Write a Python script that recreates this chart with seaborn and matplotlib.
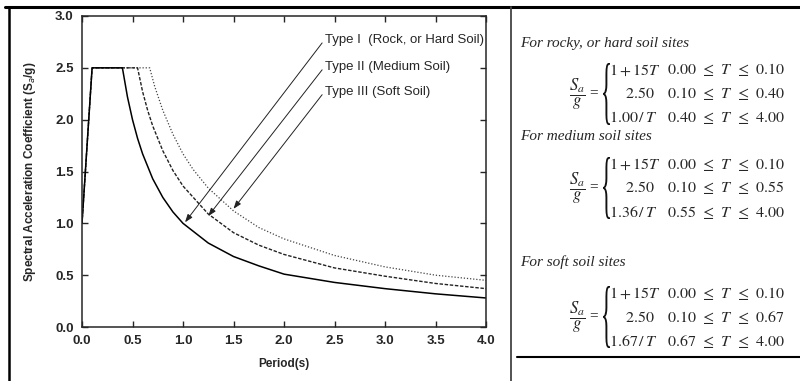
import numpy as np
import pandas as pd
import matplotlib
matplotlib.use('Agg')
import matplotlib.pyplot as plt
from matplotlib.lines import Line2D
from matplotlib.textpath import TextPath
from matplotlib.patches import PathPatch
from matplotlib.font_manager import FontProperties
from matplotlib.transforms import Affine2D
import seaborn as sns

# Response spectrum curves (period T in s, Sa/g)
t_rock = [0.0, 0.1, 0.4, 0.45, 0.5, 0.55, 0.6, 0.7, 0.8, 0.9, 1.0, 1.25, 1.5, 1.75, 2.0, 2.5, 3.0, 3.5, 4.0]
sa_rock = [1.0, 2.5, 2.5, 2.22, 2.0, 1.82, 1.67, 1.43, 1.25, 1.11, 1.0, 0.81, 0.68, 0.59, 0.51, 0.43, 0.37, 0.32, 0.28]

t_med = [0.0, 0.1, 0.55, 0.6, 0.65, 0.7, 0.8, 0.9, 1.0, 1.25, 1.5, 1.75, 2.0, 2.5, 3.0, 3.5, 4.0]
sa_med = [1.0, 2.5, 2.5, 2.27, 2.09, 1.94, 1.70, 1.51, 1.36, 1.09, 0.91, 0.79, 0.70, 0.57, 0.49, 0.42, 0.37]

t_soft = [0.0, 0.1, 0.67, 0.72, 0.8, 0.9, 1.0, 1.1, 1.25, 1.5, 1.75, 2.0, 2.5, 3.0, 3.5, 4.0]
sa_soft = [1.0, 2.5, 2.5, 2.32, 2.09, 1.86, 1.67, 1.52, 1.34, 1.12, 0.96, 0.85, 0.69, 0.58, 0.50, 0.45]

labels = ['Type I  (Rock, or Hard Soil)', 'Type II (Medium Soil)', 'Type III (Soft Soil)']
arrow_tips = [(1.02, 1.01), (1.25, 1.07), (1.50, 1.14)]
label_pos = [(2.41, 2.77), (2.41, 2.51), (2.41, 2.27)]

# Code formulas shown at the right
headers = ['For rocky, or hard soil sites', 'For medium soil sites', 'For soft soil sites']
corner_t = [0.40, 0.55, 0.67]
coef = [1.00, 1.36, 1.67]

sns.set_style('ticks')
plt.rcParams['font.family'] = ['Liberation Sans', 'DejaVu Sans']

W, H = 800, 381
fig = plt.figure(figsize=(8, 3.81), dpi=100)


def fx(x):
    return x / W


def fy(y):
    return 1 - y / H


ax = fig.add_axes([fx(82), fy(327), fx(486) - fx(82), fy(16) - fy(327)])

sns.lineplot(x=t_soft, y=sa_soft, ax=ax, sort=False, color='#444444', lw=0.9, linestyle=(0, (1, 1.5)))
sns.lineplot(x=t_med, y=sa_med, ax=ax, sort=False, color='#222222', lw=1.0, linestyle=(0, (2.5, 1.2)))
sns.lineplot(x=t_rock, y=sa_rock, ax=ax, sort=False, color='black', lw=1.1)

ax.set_xlim(0, 4)
ax.set_ylim(0, 3)
ax.set_xticks(np.arange(0, 4.01, 0.5))
ax.set_yticks(np.arange(0, 3.01, 0.5))
ax.set_xticklabels([f'{v:.1f}' for v in np.arange(0, 4.01, 0.5)], fontweight='bold', fontsize=9.5)
ax.set_yticklabels([f'{v:.1f}' for v in np.arange(0, 3.01, 0.5)], fontweight='bold', fontsize=9.5)
ax.tick_params(direction='in', length=4, width=1, top=True, right=True, pad=6)
for s in ax.spines.values():
    s.set_linewidth(1.1)

ax.set_xlabel('Period(s)', fontsize=8.5, fontweight='bold', labelpad=8)
ax.set_ylabel('Spectral Acceleration Coefficient (S$_a$/g)', fontsize=8.5, fontweight='bold', labelpad=12)

for lab, tip, pos in zip(labels, arrow_tips, label_pos):
    ax.annotate(lab, xy=tip, xytext=pos, fontsize=9.5, ha='left', va='center',
                arrowprops=dict(arrowstyle='-|>,head_length=0.5,head_width=0.18', color='#222222',
                                lw=0.7, relpos=(0, 0.6), shrinkA=0, shrinkB=0))

# table frame
fig.add_artist(Line2D([fx(5), fx(800)], [fy(7), fy(7)], color='black', lw=2.2))
fig.add_artist(Line2D([fx(9), fx(9)], [fy(7), fy(381)], color='black', lw=1.8))
fig.add_artist(Line2D([fx(511), fx(511)], [fy(7), fy(381)], color='#444444', lw=1.3))
fig.add_artist(Line2D([fx(517), fx(800)], [fy(357), fy(357)], color='black', lw=1.5))

# thin tall brace made from a glyph outline
brace = TextPath((0, 0), '{', size=60, prop=FontProperties(family='Liberation Serif'))
bext = brace.get_extents()


def add_brace(x_left, y_mid, w=7, h=62):
    tr = (Affine2D().translate(-bext.x0, -bext.y0)
          .scale(w / bext.width, h / bext.height)
          .translate(x_left, H - y_mid - h / 2))
    p = PathPatch(brace, transform=tr, facecolor='#111111', edgecolor='none')
    fig.add_artist(p)


# equations
header_y = [43, 137, 262]
mid_y = [94, 188, 317]
serif = ['Liberation Serif', 'DejaVu Serif']
for hdr, yh, ym, tc, c in zip(headers, header_y, mid_y, corner_t, coef):
    fig.text(fx(520), fy(yh), hdr, fontsize=11, style='italic', family=serif, va='center', ha='left')
    fig.text(fx(577), fy(ym), r'$\dfrac{S_a}{g}$', fontsize=12, math_fontfamily='stix',
             ha='center', va='center')
    fig.text(fx(594), fy(ym - 1), '=', fontsize=11, family=serif, ha='center', va='center')
    add_brace(603, ym)
    exprs = [r'$1+15T$', r'$2.50$', r'$%.2f\,/\,T$' % c]
    conds = [r'$0.00\;\,\leq\;\,T\;\,\leq\;\,0.10$', r'$0.10\;\,\leq\;\,T\;\,\leq\;\,%.2f$' % tc,
             r'$%.2f\;\,\leq\;\,T\;\,\leq\;\,4.00$' % tc]
    for k, (e, cd) in enumerate(zip(exprs, conds)):
        yy = ym + (k - 1) * 24
        if k == 1:
            fig.text(fx(640), fy(yy), e, fontsize=11.5, math_fontfamily='stix', ha='center', va='center')
        else:
            fig.text(fx(609), fy(yy), e, fontsize=11.5, math_fontfamily='stix', ha='left', va='center')
        fig.text(fx(667), fy(yy), cd, fontsize=11.5, math_fontfamily='stix', ha='left', va='center')

fig.savefig('out.png', dpi=100)
